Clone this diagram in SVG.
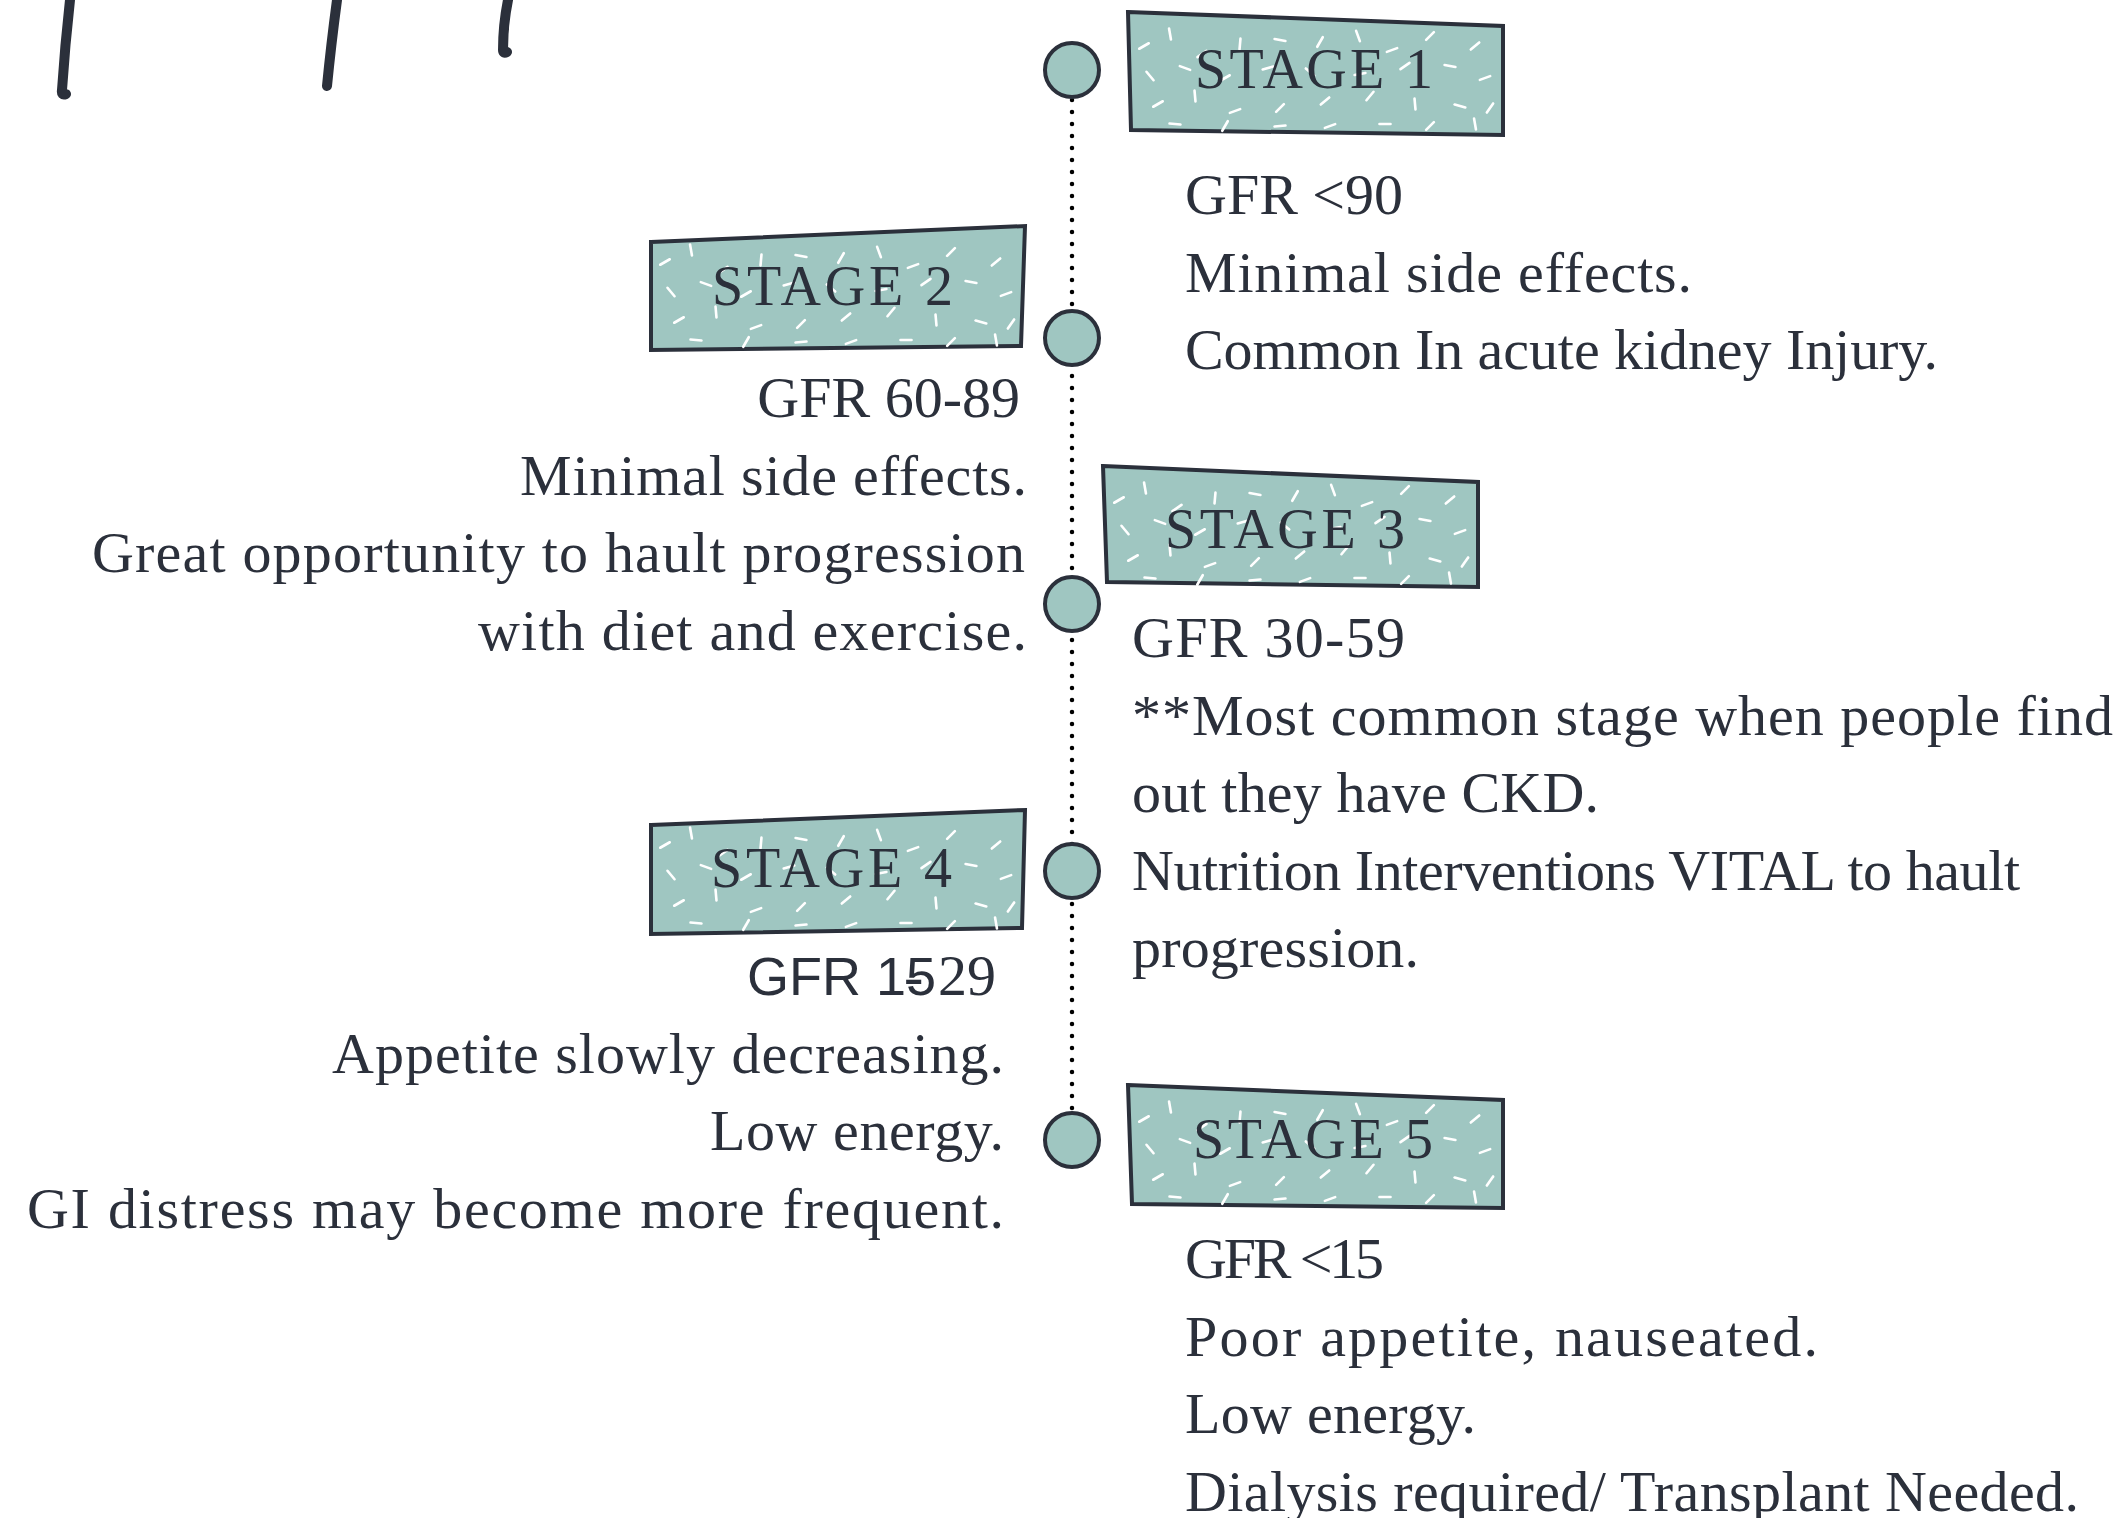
<svg xmlns="http://www.w3.org/2000/svg" xmlns:xlink="http://www.w3.org/1999/xlink" width="2128" height="1518" viewBox="0 0 2128 1518">
<style>
.box{fill:#9fc6c1;stroke:#2b303b;stroke-width:4;stroke-linejoin:miter}
.dot{fill:#9fc6c1;stroke:#2b303b;stroke-width:4}
.lbl{font-family:"Liberation Serif","Times New Roman",serif;font-size:56px;fill:#2b303b}
.txt{font-family:"Liberation Serif","Times New Roman",serif;font-size:58px;fill:#2b303b}
.sans{font-family:"Liberation Sans",Arial,sans-serif;font-size:54px;fill:#2b303b}
.end{text-anchor:end}
.mark{fill:none;stroke:#2b303b;stroke-width:10;stroke-linecap:round;stroke-linejoin:round}
</style>
<defs>
<line id="d" x1="-5.5" y1="0" x2="5.5" y2="0" stroke="#ffffff" stroke-width="2.6" stroke-linecap="round"/>
<g id="confetti">
<use xlink:href="#d" transform="translate(14,30) rotate(-30)"/>
<use xlink:href="#d" transform="translate(40,18) rotate(80)"/>
<use xlink:href="#d" transform="translate(72,38) rotate(-35)"/>
<use xlink:href="#d" transform="translate(110,28) rotate(95)"/>
<use xlink:href="#d" transform="translate(150,24) rotate(10)"/>
<use xlink:href="#d" transform="translate(190,26) rotate(-60)"/>
<use xlink:href="#d" transform="translate(228,20) rotate(70)"/>
<use xlink:href="#d" transform="translate(262,34) rotate(-20)"/>
<use xlink:href="#d" transform="translate(300,20) rotate(-45)"/>
<use xlink:href="#d" transform="translate(345,30) rotate(-40)"/>
<use xlink:href="#d" transform="translate(20,60) rotate(50)"/>
<use xlink:href="#d" transform="translate(55,52) rotate(20)"/>
<use xlink:href="#d" transform="translate(95,62) rotate(-30)"/>
<use xlink:href="#d" transform="translate(138,52) rotate(-15)"/>
<use xlink:href="#d" transform="translate(180,56) rotate(40)"/>
<use xlink:href="#d" transform="translate(230,58) rotate(-10)"/>
<use xlink:href="#d" transform="translate(275,50) rotate(-35)"/>
<use xlink:href="#d" transform="translate(320,50) rotate(10)"/>
<use xlink:href="#d" transform="translate(355,62) rotate(-20)"/>
<use xlink:href="#d" transform="translate(28,88) rotate(-30)"/>
<use xlink:href="#d" transform="translate(65,80) rotate(85)"/>
<use xlink:href="#d" transform="translate(105,95) rotate(-20)"/>
<use xlink:href="#d" transform="translate(150,92) rotate(-45)"/>
<use xlink:href="#d" transform="translate(195,85) rotate(-40)"/>
<use xlink:href="#d" transform="translate(240,80) rotate(-50)"/>
<use xlink:href="#d" transform="translate(285,88) rotate(85)"/>
<use xlink:href="#d" transform="translate(330,90) rotate(15)"/>
<use xlink:href="#d" transform="translate(360,92) rotate(-55)"/>
<use xlink:href="#d" transform="translate(45,108) rotate(5)"/>
<use xlink:href="#d" transform="translate(95,110) rotate(-60)"/>
<use xlink:href="#d" transform="translate(150,110) rotate(-5)"/>
<use xlink:href="#d" transform="translate(200,110) rotate(-20)"/>
<use xlink:href="#d" transform="translate(255,108) rotate(0)"/>
<use xlink:href="#d" transform="translate(300,110) rotate(-45)"/>
<use xlink:href="#d" transform="translate(345,108) rotate(80)"/>
</g>
</defs>
<rect width="2128" height="1518" fill="#ffffff"/>

<g id="marks">
<path class="mark" d="M70,0 Q65,45 62,90 Q61,96 66,94"/>
<path class="mark" d="M337,0 Q331,45 327,86"/>
<path class="mark" d="M508,0 Q503,25 503,50 Q503,54 507,52"/>
</g>

<g id="connectors">
<line x1="1072" y1="100" x2="1072" y2="1112" stroke="#000000" stroke-width="4.5" stroke-linecap="round" stroke-dasharray="0 12"/>
</g>

<g id="stage1">
<circle class="dot" cx="1072" cy="70" r="27"/>
<polygon class="box" points="1128,12 1503,26 1503,135 1131,130"/>
<use xlink:href="#confetti" transform="translate(1130,16)"/>
<text class="lbl" x="1195" y="88" textLength="238">STAGE 1</text>
<text class="txt" x="1185" y="214">GFR &lt;90</text>
<text class="txt" x="1185" y="292" textLength="507">Minimal side effects.</text>
<text class="txt" x="1185" y="369" textLength="753">Common In acute kidney Injury.</text>
</g>

<g id="stage2">
<circle class="dot" cx="1072" cy="338" r="27"/>
<polygon class="box" points="651,242 1025,226 1021,346 651,350"/>
<use xlink:href="#confetti" transform="translate(651,232)"/>
<text class="lbl" x="712" y="305" textLength="241">STAGE 2</text>
<text class="txt end" x="1020" y="417">GFR 60-89</text>
<text class="txt end" x="1027" y="495" textLength="507">Minimal side effects.</text>
<text class="txt end" x="1025" y="572" textLength="933">Great opportunity to hault progression</text>
<text class="txt end" x="1027" y="650" textLength="549">with diet and exercise.</text>
</g>

<g id="stage3">
<circle class="dot" cx="1072" cy="604" r="27"/>
<polygon class="box" points="1103,466 1478,482 1478,587 1107,582"/>
<use xlink:href="#confetti" transform="translate(1105,470)"/>
<text class="lbl" x="1165" y="548" textLength="240">STAGE 3</text>
<text class="txt" x="1132" y="657" textLength="273">GFR 30-59</text>
<text class="txt" x="1132" y="735" textLength="981">**Most common stage when people find</text>
<text class="txt" x="1132" y="812" textLength="467">out they have CKD.</text>
<text class="txt" x="1132" y="890" textLength="888">Nutrition Interventions VITAL to hault</text>
<text class="txt" x="1132" y="967" textLength="287">progression.</text>
</g>

<g id="stage4">
<circle class="dot" cx="1072" cy="871" r="27"/>
<polygon class="box" points="651,825 1025,810 1022,928 651,934"/>
<use xlink:href="#confetti" transform="translate(651,815)"/>
<text class="lbl" x="711" y="887" textLength="241">STAGE 4</text>
<text class="sans" x="747" y="995">GFR 15</text>
<text class="txt" x="904" y="995">-</text>
<text class="txt" x="938" y="995">29</text>
<text class="txt end" x="1004" y="1073" textLength="672">Appetite slowly decreasing.</text>
<text class="txt end" x="1004" y="1150" textLength="294">Low energy.</text>
<text class="txt end" x="1004" y="1228" textLength="977">GI distress may become more frequent.</text>
</g>

<g id="stage5">
<circle class="dot" cx="1072" cy="1140" r="27"/>
<polygon class="box" points="1128,1085 1503,1100 1503,1208 1132,1204"/>
<use xlink:href="#confetti" transform="translate(1130,1089)"/>
<text class="lbl" x="1193" y="1158" textLength="240">STAGE 5</text>
<text class="txt" x="1185" y="1278" textLength="199">GFR &lt;15</text>
<text class="txt" x="1185" y="1356" textLength="633">Poor appetite, nauseated.</text>
<text class="txt" x="1185" y="1433" textLength="291">Low energy.</text>
<text class="txt" x="1185" y="1511" textLength="894">Dialysis required/ Transplant Needed.</text>
</g>
</svg>
